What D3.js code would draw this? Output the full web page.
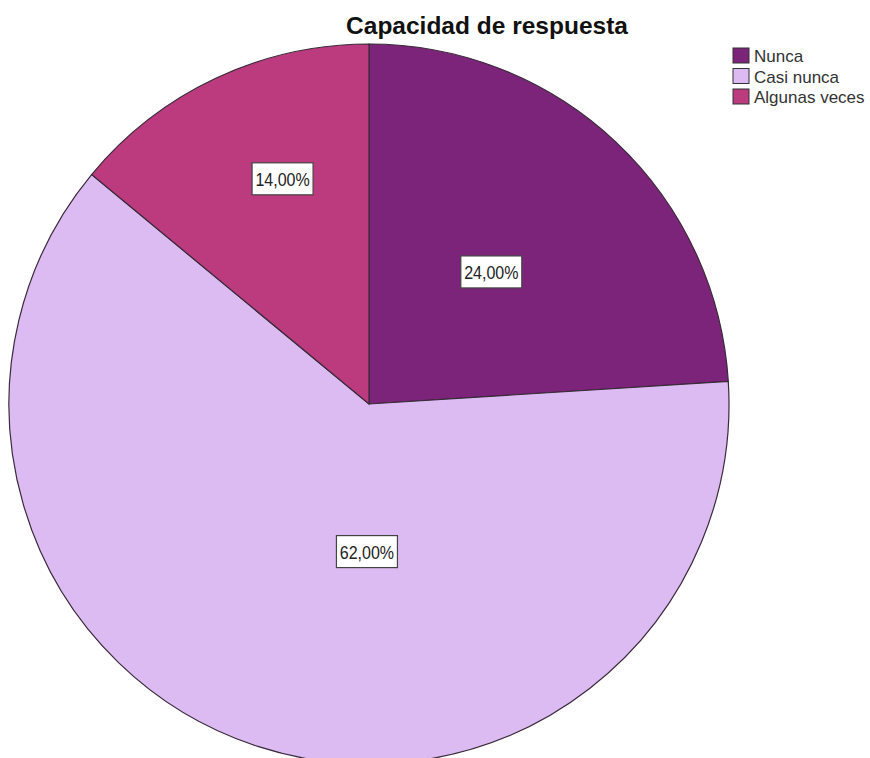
<!DOCTYPE html>
<html>
<head>
<meta charset="utf-8">
<script src="https://cdn.jsdelivr.net/npm/d3@7"></script>
<style>
  body { margin: 0; background: #fff; }
  svg { display: block; }
</style>
</head>
<body>
<div id="chart"></div>
<script>
const categories = ["Nunca", "Casi nunca", "Algunas veces"];
const values = [24, 62, 14];
const labels = ["24,00%", "62,00%", "14,00%"];
const colors = ["#7c2479", "#dcbaf2", "#bc3b7e"];

// where SPSS put each box: fraction of radius, angle (deg, clockwise from top)
const labelPlace = [[0.50, 42.8], [0.41, 180.8], [0.67, 339]];

const width = 870, height = 758;
const cx = 369, cy = 404, radius = 360;

const svg = d3.select("#chart").append("svg")
    .attr("width", width)
    .attr("height", height);

const pie = d3.pie().sort(null).value(d => d)(values);
const arc = d3.arc().innerRadius(0).outerRadius(radius);

const g = svg.append("g").attr("transform", `translate(${cx},${cy})`);

g.selectAll("path.slice")
    .data(pie)
    .enter()
    .append("path")
    .attr("class", "slice")
    .attr("d", arc)
    .attr("fill", (d, i) => colors[i])
    .attr("stroke", "#3a2a3a")
    .attr("stroke-width", 1.2);

// percent labels in white boxes
const lab = g.selectAll("g.lab")
    .data(pie)
    .enter()
    .append("g")
    .attr("class", "lab")
    .attr("transform", (d, i) => {
        const r = labelPlace[i][0] * radius;
        const a = labelPlace[i][1] * Math.PI / 180;
        return `translate(${r * Math.sin(a)},${-r * Math.cos(a)})`;
    });

lab.append("rect")
    .attr("x", -30.5)
    .attr("y", -16)
    .attr("width", 61)
    .attr("height", 32)
    .attr("fill", "#fff")
    .attr("stroke", "#444")
    .attr("stroke-width", 1.2);

lab.append("text")
    .attr("text-anchor", "middle")
    .attr("transform", "scale(1,1.2)")
    .attr("dy", "0.36em")
    .style("font-family", "'Liberation Sans', Arial, sans-serif")
    .style("font-size", "16px")
    .attr("fill", "#222")
    .text((d, i) => labels[i]);

// title
svg.append("text")
    .attr("x", 487)
    .attr("y", 34)
    .attr("text-anchor", "middle")
    .style("font-family", "'Liberation Sans', Arial, sans-serif")
    .style("font-size", "24.5px")
    .style("font-weight", "bold")
    .attr("fill", "#111")
    .text("Capacidad de respuesta");

// legend
const legend = svg.append("g").attr("transform", "translate(733,48)");
const row = legend.selectAll("g")
    .data(categories)
    .enter()
    .append("g")
    .attr("transform", (d, i) => `translate(0,${i * 20.5})`);

row.append("rect")
    .attr("width", 16)
    .attr("height", 15)
    .attr("fill", (d, i) => colors[i])
    .attr("stroke", "#333")
    .attr("stroke-width", 1);

row.append("text")
    .attr("x", 21)
    .attr("y", 8)
    .attr("dy", "0.36em")
    .style("font-family", "'Liberation Sans', Arial, sans-serif")
    .style("font-size", "17px")
    .attr("fill", "#333")
    .text(d => d);
</script>
</body>
</html>
